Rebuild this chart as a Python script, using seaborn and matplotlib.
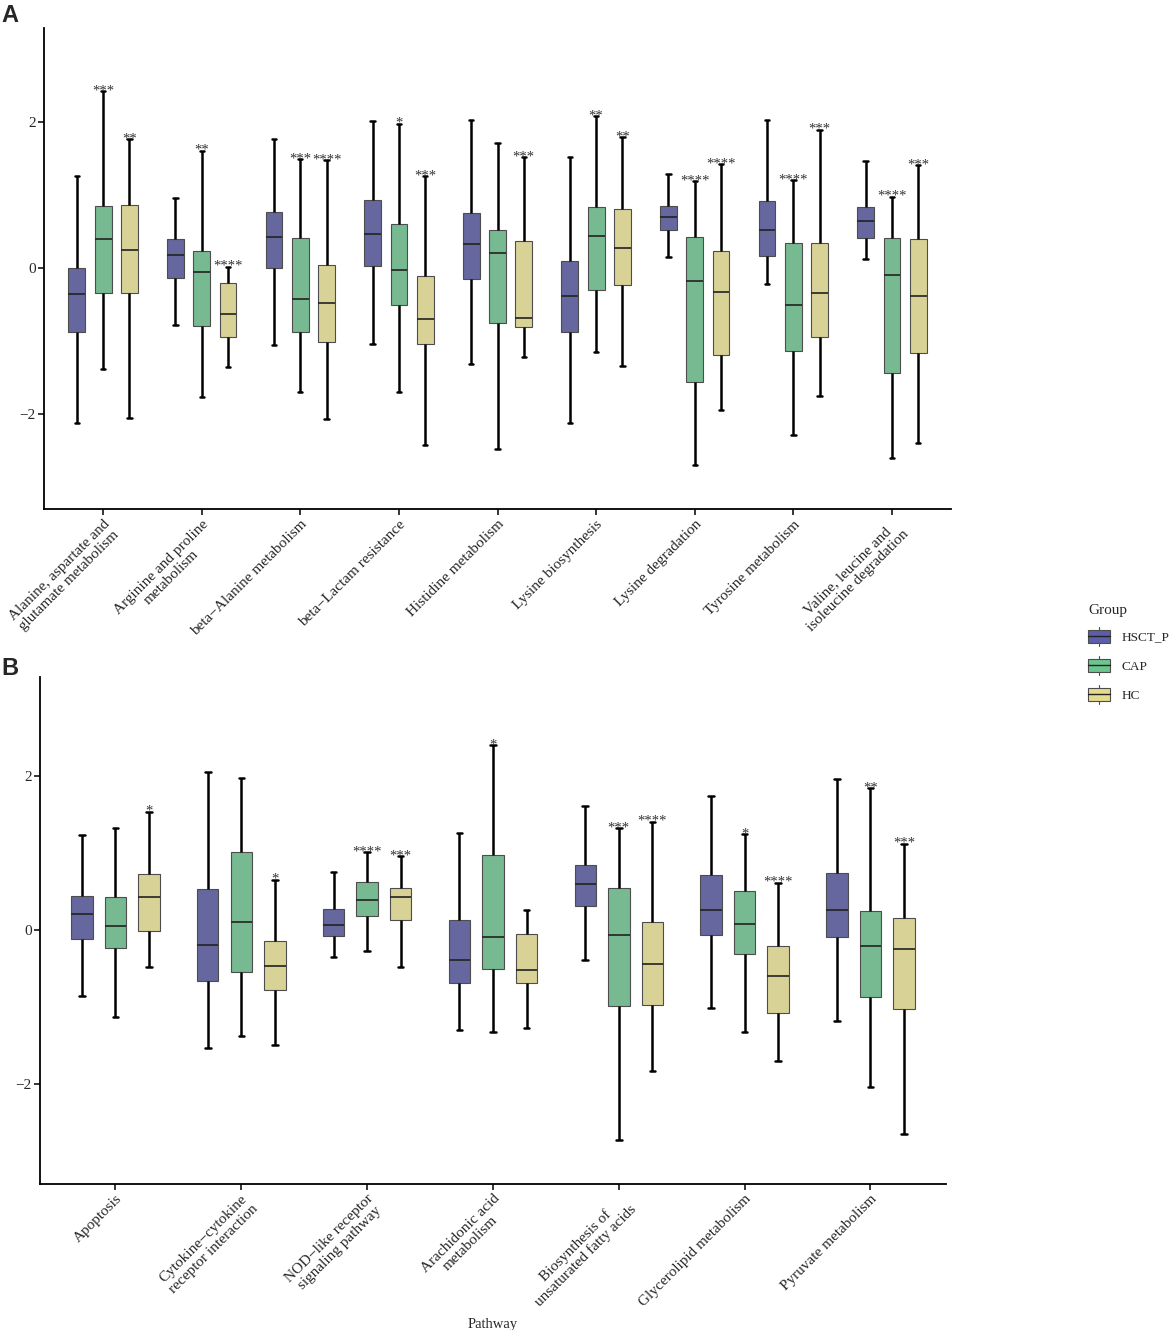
import numpy as np
import pandas as pd
import seaborn as sns
import matplotlib.pyplot as plt
from matplotlib.legend_handler import HandlerBase
from matplotlib.patches import Rectangle
from matplotlib.lines import Line2D

# groups and colours
groups = ['HSCT_P', 'CAP', 'HC']
palette = {'HSCT_P': '#5b5ea8', 'CAP': '#6cc48f', 'HC': '#e4db8c'}

# ---- panel A ----
pathways_a = ['Alanine, aspartate and\nglutamate metabolism', 'Arginine and proline\nmetabolism',
              'beta\u2212Alanine metabolism', 'beta\u2212Lactam resistance', 'Histidine metabolism',
              'Lysine biosynthesis', 'Lysine degradation', 'Tyrosine metabolism',
              'Valine, leucine and\nisoleucine degradation']
# each entry: min, q1, median, q3, max
a_hsct = [[-2.125, -0.88, -0.356, 0.0, 1.254], [-0.775, -0.132, 0.182, 0.397, 0.958],
          [-1.049, 0.0, 0.429, 0.766, 1.76], [-1.04, 0.027, 0.461, 0.926, 2.002],
          [-1.309, -0.15, 0.328, 0.753, 2.016], [-2.116, -0.871, -0.388, 0.096, 1.514],
          [0.151, 0.52, 0.693, 0.848, 1.277], [-0.224, 0.169, 0.52, 0.908, 2.016],
          [0.119, 0.406, 0.639, 0.835, 1.464]]
a_cap = [[-1.387, -0.342, 0.401, 0.848, 2.417], [-1.77, -0.794, -0.059, 0.228, 1.601],
         [-1.692, -0.871, -0.424, 0.41, 1.482], [-1.692, -0.506, -0.023, 0.607, 1.97],
         [-2.481, -0.757, 0.205, 0.525, 1.71], [-1.154, -0.301, 0.433, 0.839, 2.075],
         [-2.697, -1.555, -0.178, 0.424, 1.186], [-2.281, -1.136, -0.511, 0.338, 1.2],
         [-2.591, -1.437, -0.1, 0.41, 0.971]]
a_hc = [[-2.057, -0.342, 0.246, 0.862, 1.76], [-1.359, -0.94, -0.629, -0.205, 0.018],
        [-2.066, -1.008, -0.479, 0.041, 1.469], [-2.417, -1.04, -0.693, -0.114, 1.254],
        [-1.222, -0.812, -0.684, 0.369, 1.514], [-1.341, -0.228, 0.274, 0.807, 1.783],
        [-1.943, -1.19, -0.328, 0.233, 1.418], [-1.756, -0.94, -0.338, 0.338, 1.888],
        [-2.395, -1.163, -0.379, 0.392, 1.4]]
a_stars_hsct = [''] * 9
a_stars_cap = ['***', '**', '***', '*', '', '**', '****', '****', '****']
a_stars_hc = ['**', '****', '****', '***', '***', '**', '****', '***', '***']

# ---- panel B ----
pathways_b = ['Apoptosis', 'Cytokine\u2212cytokine\nreceptor interaction',
              'NOD\u2212like receptor\nsignaling pathway', 'Arachidonic acid\nmetabolism',
              'Biosynthesis of\nunsaturated fatty acids', 'Glycerolipid metabolism',
              'Pyruvate metabolism']
b_hsct = [[-0.861, -0.117, 0.203, 0.437, 1.229], [-1.541, -0.671, -0.203, 0.524, 2.052],
          [-0.351, -0.082, 0.061, 0.268, 0.753], [-1.303, -0.688, -0.394, 0.126, 1.26],
          [-0.398, 0.307, 0.593, 0.84, 1.61], [-1.022, -0.069, 0.255, 0.71, 1.732],
          [-1.182, -0.1, 0.251, 0.736, 1.957]]
b_cap = [[-1.139, -0.238, 0.048, 0.429, 1.32], [-1.381, -0.55, 0.095, 1.004, 1.965],
         [-0.273, 0.177, 0.381, 0.619, 1.004], [-1.329, -0.506, -0.095, 0.97, 2.394],
         [-2.727, -0.991, -0.074, 0.541, 1.316], [-1.325, -0.316, 0.078, 0.502, 1.238],
         [-2.043, -0.874, -0.212, 0.247, 1.835]]
b_hc = [[-0.481, -0.022, 0.429, 0.719, 1.532], [-1.502, -0.779, -0.476, -0.143, 0.649],
        [-0.489, 0.13, 0.42, 0.545, 0.952], [-1.281, -0.697, -0.519, -0.056, 0.26],
        [-1.84, -0.978, -0.45, 0.095, 1.403], [-1.701, -1.082, -0.597, -0.212, 0.606],
        [-2.654, -1.026, -0.247, 0.147, 1.117]]
b_stars_hsct = [''] * 7
b_stars_cap = ['', '', '****', '*', '***', '*', '**']
b_stars_hc = ['*', '*', '***', '', '****', '****', '***']

sns.set_theme(style='white')
plt.rcParams['font.family'] = ['Liberation Serif', 'DejaVu Serif']

LINE = '#4d4d4d'


def long_table(pathways, series):
    rows = []
    for g, vals in zip(groups, series):
        for p, five in zip(pathways, vals):
            for v in five:
                rows.append({'Pathway': p, 'Group': g, 'value': v})
    return pd.DataFrame(rows)


def draw_panel(ax, pathways, series, stars, xlabel):
    df = long_table(pathways, series)
    sns.boxplot(data=df, x='Pathway', y='value', hue='Group', order=pathways,
                hue_order=groups, palette=palette, whis=(0, 100), width=0.8, gap=0.36,
                fliersize=0, linecolor=LINE, linewidth=0.8, legend=False, ax=ax,
                whiskerprops={'color': 'black', 'linewidth': 1.8},
                capprops={'color': 'black', 'linewidth': 1.8},
                medianprops={'color': '#222222', 'linewidth': 1.2})
    # shorten caps
    for ln in ax.lines:
        xd, yd = np.asarray(ln.get_xdata(), float), np.asarray(ln.get_ydata(), float)
        if len(xd) == 2 and yd[0] == yd[1] and abs(ln.get_linewidth() - 1.8) < 1e-6:
            c = xd.mean()
            ln.set_xdata([c - 0.022, c + 0.022])
    slot = 0.8 / len(groups)
    for gi, (vals, st) in enumerate(zip(series, stars)):
        off = (gi - 1) * slot
        for i, (five, s) in enumerate(zip(vals, st)):
            if s:
                ax.annotate(s, (i + off, five[4]), xytext=(0, -2.2), textcoords='offset points',
                            ha='center', va='baseline', fontsize=10.5, color='#333333')
    ax.set_xlim(-0.6, len(pathways) - 0.4)
    ax.set_ylim(-3.3, 3.28)
    ax.set_yticks([-2, 0, 2])
    ax.set_ylabel('')
    ax.set_xlabel(xlabel, fontsize=10.5, labelpad=6)
    sns.despine(ax=ax)
    for side in ['left', 'bottom']:
        ax.spines[side].set_color('black')
        ax.spines[side].set_linewidth(1.3)
    ax.tick_params(axis='both', which='major', length=4, width=1.1, color='black',
                   labelsize=11, left=True, bottom=True, pad=2)
    for lab in ax.get_xticklabels():
        lab.set_rotation(45)
        lab.set_ha('right')
        lab.set_va('top')
        lab.set_rotation_mode('anchor')
        lab.set_multialignment('center')
        lab.set_linespacing(1.1)


class BoxHandler(HandlerBase):
    def create_artists(self, legend, orig_handle, xdescent, ydescent, width, height, fontsize, trans):
        x0, y0 = -xdescent, -ydescent
        bh = height * 0.66
        by = y0 + (height - bh) / 2
        xc = x0 + width / 2
        rect = Rectangle((x0, by), width, bh, facecolor=orig_handle.get_facecolor(),
                         edgecolor=LINE, lw=0.8, transform=trans)
        med = Line2D([x0, x0 + width], [y0 + height / 2] * 2, color='#222222', lw=1.0, transform=trans)
        w1 = Line2D([xc, xc], [y0, by], color=LINE, lw=0.8, transform=trans)
        w2 = Line2D([xc, xc], [by + bh, y0 + height], color=LINE, lw=0.8, transform=trans)
        return [w1, w2, rect, med]


fig = plt.figure(figsize=(11.69, 13.3), dpi=100)
ax_a = fig.add_axes([0.0376, 0.617, 0.776, 0.362])
ax_b = fig.add_axes([0.0342, 0.110, 0.775, 0.381])

draw_panel(ax_a, pathways_a, [a_hsct, a_cap, a_hc], [a_stars_hsct, a_stars_cap, a_stars_hc], '')
draw_panel(ax_b, pathways_b, [b_hsct, b_cap, b_hc], [b_stars_hsct, b_stars_cap, b_stars_hc], 'Pathway')

fig.text(0.001, 0.997, 'A', fontsize=17, fontweight='bold', family='Liberation Sans', va='top', ha='left')
fig.text(0.001, 0.506, 'B', fontsize=17, fontweight='bold', family='Liberation Sans', va='top', ha='left')

handles = [Rectangle((0, 0), 1, 1, facecolor=palette[g]) for g in groups]
fig.legend(handles, groups, title='Group', loc='upper left',
           bbox_to_anchor=(1088 / 1169, 1 - 604 / 1330), frameon=False,
           handler_map={Rectangle: BoxHandler()}, fontsize=9.5, title_fontsize=11,
           handlelength=1.65, handleheight=1.85, labelspacing=0.75, handletextpad=0.9,
           alignment='left', borderaxespad=0, borderpad=0)

fig.savefig('out.png', dpi=100)
